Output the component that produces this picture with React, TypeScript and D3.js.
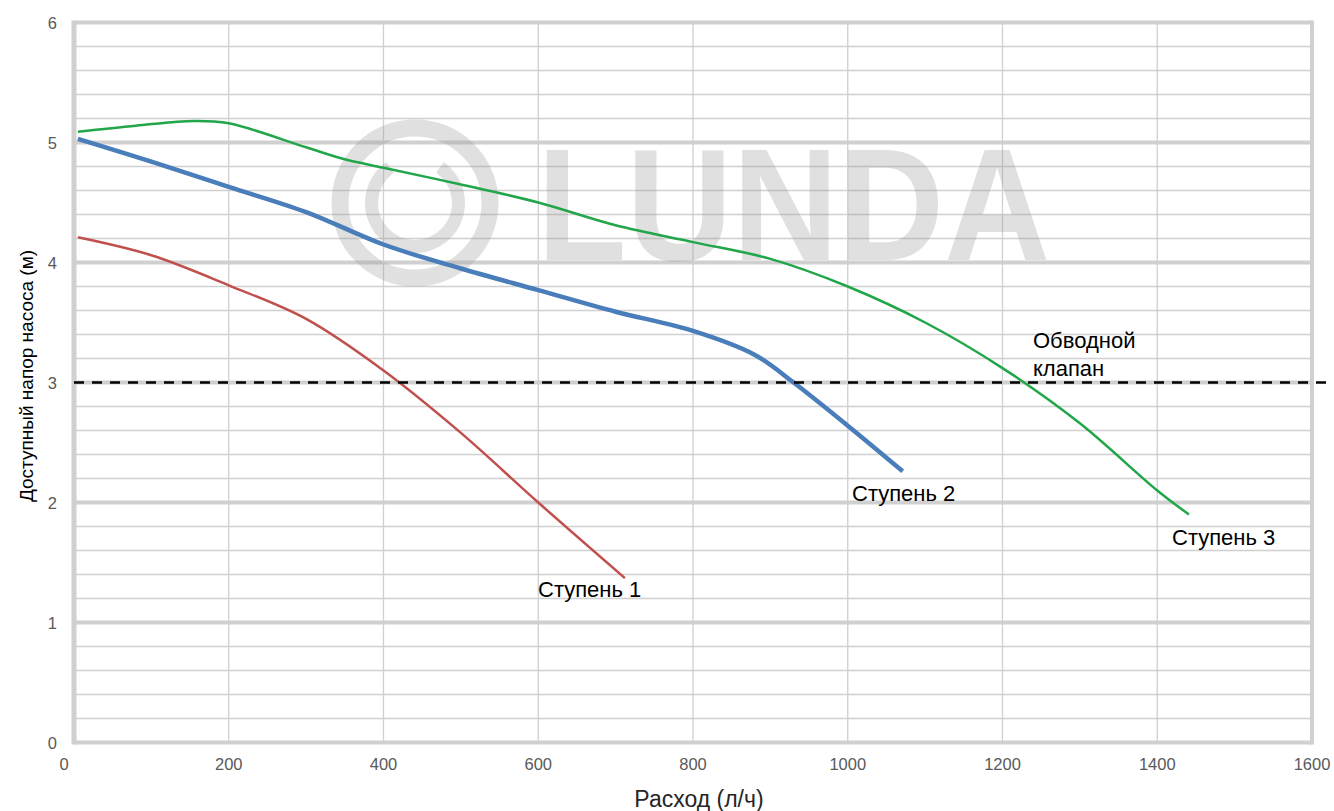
import * as d3 from "d3";
import { useEffect, useRef } from "react";

// flow (л/ч) and head (м)
const stage1Flow = [5, 100, 200, 300, 400, 500, 600, 712];
const stage1Head = [4.21, 4.06, 3.81, 3.53, 3.1, 2.58, 2.0, 1.37];

const stage2Flow = [5, 100, 200, 300, 400, 500, 600, 700, 800, 880, 930, 1000, 1071];
const stage2Head = [5.03, 4.84, 4.63, 4.42, 4.15, 3.95, 3.77, 3.59, 3.43, 3.23, 3.0, 2.64, 2.26];

const stage3Flow = [5, 80, 155, 200, 300, 350, 400, 500, 600, 700, 800, 900, 1000, 1100, 1200, 1300, 1400, 1441];
const stage3Head = [5.09, 5.14, 5.18, 5.16, 4.96, 4.86, 4.79, 4.65, 4.5, 4.31, 4.17, 4.03, 3.8, 3.5, 3.12, 2.66, 2.1, 1.9];

const stageNames = ["Ступень 1", "Ступень 2", "Ступень 3"];
const bypassHead = 3;
const bypassText = ["Обводной", "клапан"];

const flowTicks = [0, 200, 400, 600, 800, 1000, 1200, 1400, 1600];
const headTicks = [0, 1, 2, 3, 4, 5, 6];

const xTitle = "Расход (л/ч)";
const yTitle = "Доступный напор насоса (м)";

type Pt = { q: number; h: number };

export default function App() {
    const svgRef = useRef<SVGSVGElement | null>(null);

    useEffect(() => {
        if (!svgRef.current) return;
        const svg = d3.select(svgRef.current);
        svg.selectAll("*").remove();

        const width = 1334;
        const height = 811;
        const font = "'Liberation Sans', Arial, sans-serif";
        const gridColor = "#d0d0d0";

        const x = d3.scaleLinear().domain([0, 1600]).range([74, 1312]);
        const y = d3.scaleLinear().domain([0, 6]).range([742.5, 22.5]);

        svg.attr("width", width).attr("height", height);
        const g = svg.append("g");

        // minor horizontal grid (every 0.2)
        const minor = y.ticks(30).filter((t) => Math.abs(t - Math.round(t)) > 1e-6);
        g.selectAll("line.minor")
            .data(minor)
            .enter()
            .append("line")
            .attr("x1", x(0))
            .attr("x2", x(1600))
            .attr("y1", (d) => y(d))
            .attr("y2", (d) => y(d))
            .attr("stroke", gridColor)
            .attr("stroke-width", 1.3);

        // vertical grid
        g.selectAll("line.vgrid")
            .data(flowTicks.slice(1, -1))
            .enter()
            .append("line")
            .attr("x1", (d) => x(d))
            .attr("x2", (d) => x(d))
            .attr("y1", y(6))
            .attr("y2", y(0))
            .attr("stroke", gridColor)
            .attr("stroke-width", 1.3);

        // major horizontal grid
        g.selectAll("line.major")
            .data(headTicks)
            .enter()
            .append("line")
            .attr("x1", x(0))
            .attr("x2", x(1600))
            .attr("y1", (d) => y(d))
            .attr("y2", (d) => y(d))
            .attr("stroke", gridColor)
            .attr("stroke-width", 4);

        // frame
        g.append("line")
            .attr("x1", x(0)).attr("x2", x(0))
            .attr("y1", y(6) - 2).attr("y2", y(0) + 2)
            .attr("stroke", gridColor).attr("stroke-width", 5);
        g.append("line")
            .attr("x1", x(1600)).attr("x2", x(1600))
            .attr("y1", y(6) - 2).attr("y2", y(0) + 2)
            .attr("stroke", gridColor).attr("stroke-width", 4);

        // watermark
        const wm = g.append("g").attr("opacity", 0.3);
        wm.append("circle")
            .attr("cx", 415).attr("cy", 203).attr("r", 75)
            .attr("fill", "none").attr("stroke", "#9a9a9a").attr("stroke-width", 17);
        const arc = d3.arc()({
            innerRadius: 37,
            outerRadius: 50,
            startAngle: (35 * Math.PI) / 180,
            endAngle: (145 * Math.PI) / 180 + Math.PI,
        } as any);
        wm.append("path")
            .attr("transform", "translate(415,203)")
            .attr("d", arc as string)
            .attr("fill", "#9a9a9a");
        wm.append("text")
            .attr("x", 537)
            .attr("y", 260)
            .attr("font-family", font)
            .attr("font-weight", 700)
            .attr("font-size", 160)
            .attr("textLength", 513)
            .attr("lengthAdjust", "spacingAndGlyphs")
            .attr("fill", "#9a9a9a")
            .text("LUNDA");

        // tick labels
        g.selectAll("text.xt")
            .data(flowTicks)
            .enter()
            .append("text")
            .attr("x", (d) => x(d) - (d === 0 ? 10 : 0))
            .attr("y", 770)
            .attr("text-anchor", "middle")
            .attr("font-family", font)
            .attr("font-size", 16.5)
            .attr("fill", "#595959")
            .text((d) => String(d));

        g.selectAll("text.yt")
            .data(headTicks)
            .enter()
            .append("text")
            .attr("x", 57)
            .attr("y", (d) => y(d) + 6)
            .attr("text-anchor", "end")
            .attr("font-family", font)
            .attr("font-size", 16.5)
            .attr("fill", "#595959")
            .text((d) => String(d));

        // axis titles
        g.append("text")
            .attr("x", 699)
            .attr("y", 807)
            .attr("text-anchor", "middle")
            .attr("font-family", font)
            .attr("font-size", 23)
            .attr("fill", "#262626")
            .text(xTitle);
        g.append("text")
            .attr("transform", "translate(33,376) rotate(-90)")
            .attr("text-anchor", "middle")
            .attr("font-family", font)
            .attr("font-size", 19)
            .attr("fill", "#000")
            .text(yTitle);

        // curves
        const line = d3.line<Pt>()
            .x((d) => x(d.q))
            .y((d) => y(d.h))
            .curve(d3.curveCatmullRom.alpha(0.5));

        const series = [
            { flow: stage1Flow, head: stage1Head, color: "#c0504d", w: 2.5 },
            { flow: stage2Flow, head: stage2Head, color: "#4a7ebb", w: 4.5 },
            { flow: stage3Flow, head: stage3Head, color: "#22a64a", w: 2.5 },
        ];
        series.forEach((s) => {
            const pts: Pt[] = s.flow.map((q, i) => ({ q, h: s.head[i] }));
            g.append("path")
                .datum(pts)
                .attr("fill", "none")
                .attr("stroke", s.color)
                .attr("stroke-width", s.w)
                .attr("d", line);
        });

        // bypass valve line
        g.append("line")
            .attr("x1", x(0))
            .attr("x2", width)
            .attr("y1", y(bypassHead))
            .attr("y2", y(bypassHead))
            .attr("stroke", "#000")
            .attr("stroke-width", 2.5)
            .attr("stroke-dasharray", "10,8");

        // labels
        const labelPos = [
            [538, 597],
            [852, 501],
            [1172, 545],
        ];
        stageNames.forEach((name, i) => {
            g.append("text")
                .attr("x", labelPos[i][0])
                .attr("y", labelPos[i][1])
                .attr("font-family", font)
                .attr("font-size", 22)
                .attr("fill", "#000")
                .text(name);
        });
        bypassText.forEach((t, i) => {
            g.append("text")
                .attr("x", 1033)
                .attr("y", 348 + i * 28)
                .attr("font-family", font)
                .attr("font-size", 22)
                .attr("fill", "#000")
                .text(t);
        });
    }, []);

    return (
        <svg ref={svgRef} style={{ position: "absolute", left: 0, top: 0, display: "block" }} />
    );
}
